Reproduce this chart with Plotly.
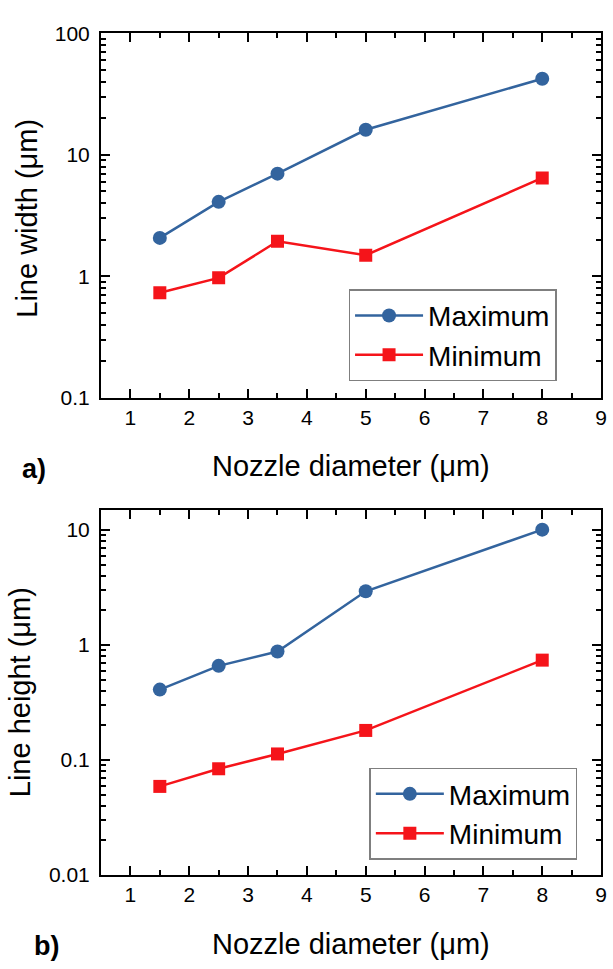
import plotly.graph_objects as go
import numpy as np

# ---- data ----
nozzle = [1.5, 2.5, 3.5, 5, 8]
width_max = [2.07, 4.1, 7.0, 16.1, 42.4]
width_min = [0.73, 0.97, 1.94, 1.49, 6.46]
height_max = [0.41, 0.66, 0.88, 2.94, 10.1]
height_min = [0.059, 0.084, 0.113, 0.181, 0.74]

x_ticks = [1, 2, 3, 4, 5, 6, 7, 8, 9]
y1_ticks = [0.1, 1, 10, 100]
y1_labels = ["0.1", "1", "10", "100"]
y2_ticks = [0.01, 0.1, 1, 10]
y2_labels = ["0.01", "0.1", "1", "10"]

BLUE = "#33649E"
RED = "#F5141A"
FONT = "Liberation Sans, Arial, sans-serif"

W, H = 613, 969

fig = go.Figure()

def add_pair(xa, ya, ymax, ymin, legend):
    fig.add_trace(go.Scatter(x=nozzle, y=ymax, mode="lines+markers", name="Maximum",
                             xaxis=xa, yaxis=ya, legend=legend,
                             line=dict(color=BLUE, width=2.5),
                             marker=dict(symbol="circle", size=14, color=BLUE)))
    fig.add_trace(go.Scatter(x=nozzle, y=ymin, mode="lines+markers", name="Minimum",
                             xaxis=xa, yaxis=ya, legend=legend,
                             line=dict(color=RED, width=2.5),
                             marker=dict(symbol="square", size=13, color=RED)))

add_pair("x", "y", width_max, width_min, "legend")
add_pair("x2", "y2", height_max, height_min, "legend2")

def minor_log(lo, hi):
    vals = []
    for d in range(lo, hi):
        for k in range(2, 10):
            vals.append(k * 10.0 ** d)
    return vals

xdom = [102 / W, 607 / W]
y1dom = [1 - 395 / H, 1 - 22 / H]
y2dom = [1 - 884 / H, 1 - 510 / H]

axis_common = dict(showline=True, linecolor="black", linewidth=2, mirror="allticks",
                   ticks="inside", tickcolor="black", tickwidth=2, ticklen=9,
                   showgrid=False, zeroline=False,
                   tickfont=dict(family=FONT, size=21, color="black"))

xaxis_cfg = dict(axis_common, range=[0.5, 9], tickmode="array", tickvals=x_ticks,
                 minor=dict(ticks="inside", ticklen=5, tickwidth=2, tickcolor="black",
                            tickmode="array", tickvals=[v + 0.5 for v in range(0, 9)]))

legend_common = dict(xanchor="left", yanchor="top",
                     bordercolor="#7f7f7f", borderwidth=1.5, bgcolor="white",
                     font=dict(family=FONT, size=28, color="black"),
                     itemwidth=68, tracegroupgap=0)

fig.update_layout(
    width=W, height=H,
    margin=dict(l=0, r=0, t=0, b=0),
    paper_bgcolor="white", plot_bgcolor="white",
    showlegend=True,
    xaxis=dict(xaxis_cfg, domain=xdom, anchor="y"),
    xaxis2=dict(xaxis_cfg, domain=xdom, anchor="y2"),
    yaxis=dict(axis_common, type="log", domain=y1dom, anchor="x",
               range=[-1, 2], tickmode="array", tickvals=y1_ticks, ticktext=y1_labels,
               ticklabelstandoff=5,
               minor=dict(ticks="inside", ticklen=5, tickwidth=2, tickcolor="black",
                          tickmode="array", tickvals=minor_log(-1, 2))),
    yaxis2=dict(axis_common, type="log", domain=y2dom, anchor="x2",
                range=[-2, np.log10(15)], tickmode="array", tickvals=y2_ticks, ticktext=y2_labels,
                ticklabelstandoff=5,
                minor=dict(ticks="inside", ticklen=5, tickwidth=2, tickcolor="black",
                           tickmode="array", tickvals=minor_log(-2, 2))),
    legend=dict(legend_common, x=352 / W, y=1 - 284 / H),
    legend2=dict(legend_common, x=373 / W, y=1 - 774 / H),
)

ann_font = dict(family=FONT, size=29, color="black")
annotations = [
    dict(text="Nozzle diameter (μm)", x=354.5 / W, y=1 - 465 / H),
    dict(text="Nozzle diameter (μm)", x=354.5 / W, y=1 - 955 / H),
    dict(text="Line width (μm)", x=27 / W, y=1 - 211 / H, textangle=-90),
    dict(text="Line height (μm)", x=21 / W, y=1 - 697 / H, textangle=-90),
]
for a in annotations:
    fig.add_annotation(xref="paper", yref="paper", xanchor="center", yanchor="middle",
                       showarrow=False, font=ann_font, **a)

fig.add_annotation(text="<b>a)</b>", x=34 / W, y=1 - 468 / H, xref="paper", yref="paper",
                   xanchor="center", yanchor="middle", showarrow=False,
                   font=dict(family=FONT, size=27, color="black"))
fig.add_annotation(text="<b>b)</b>", x=47 / W, y=1 - 957 / H, xref="paper", yref="paper",
                   xanchor="center", yanchor="middle", showarrow=False,
                   font=dict(family=FONT, size=27, color="black"))

fig.write_html("out.html")
